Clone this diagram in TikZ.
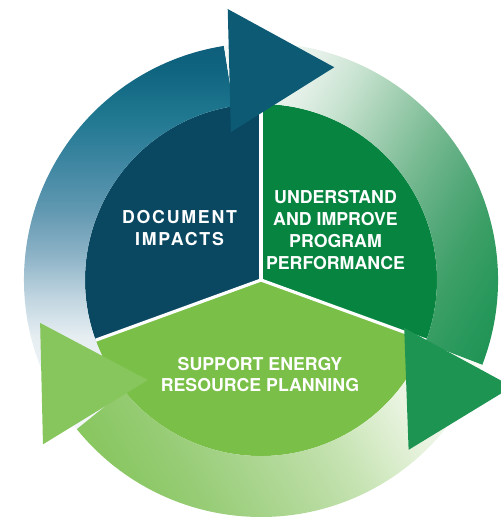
\documentclass[tikz,border=0pt]{standalone}
\usepackage{fontspec}
\setmainfont{TeX Gyre Heros}
\usetikzlibrary{calc}
\definecolor{docblue}{HTML}{0A4862}
\definecolor{perfgreen}{HTML}{078540}
\definecolor{plangreen}{HTML}{7ABF48}
\definecolor{bluedark}{HTML}{0D5A74}
\definecolor{dgreendark}{HTML}{1E9453}
\definecolor{lgreendark}{HTML}{87C65C}
%fade steps, from tail (a) to head (i)
\definecolor{bluea}{HTML}{F2F6F8}
\definecolor{blueb}{HTML}{E6EEF2}
\definecolor{bluec}{HTML}{C0D5E0}
\definecolor{blued}{HTML}{8FB4C8}
\definecolor{bluee}{HTML}{5F97B0}
\definecolor{bluef}{HTML}{3A84A0}
\definecolor{blueg}{HTML}{207890}
\definecolor{blueh}{HTML}{0F6480}
\definecolor{bluei}{HTML}{0D5C78}
\definecolor{dgreena}{HTML}{F4F9F6}
\definecolor{dgreenb}{HTML}{E2EFE6}
\definecolor{dgreenc}{HTML}{C6E2CF}
\definecolor{dgreend}{HTML}{A4D0B3}
\definecolor{dgreene}{HTML}{7ABB94}
\definecolor{dgreenf}{HTML}{55A97A}
\definecolor{dgreeng}{HTML}{3C9F66}
\definecolor{dgreenh}{HTML}{26975A}
\definecolor{dgreeni}{HTML}{1E9453}
\definecolor{lgreena}{HTML}{F7FBF4}
\definecolor{lgreenb}{HTML}{E8F3DF}
\definecolor{lgreenc}{HTML}{D6EBC7}
\definecolor{lgreend}{HTML}{C4E2B0}
\definecolor{lgreene}{HTML}{B3D99A}
\definecolor{lgreenf}{HTML}{A3D286}
\definecolor{lgreeng}{HTML}{97CC75}
\definecolor{lgreenh}{HTML}{8CC866}
\definecolor{lgreeni}{HTML}{87C65C}
\newcommand\declarefade[1]{%
  \pgfdeclareverticalshading{#1fade}{100bp}{
    color(0bp)=(#1a); color(30bp)=(#1a); color(37bp)=(#1b);
    color(42.2bp)=(#1c); color(47.4bp)=(#1d); color(53.9bp)=(#1e);
    color(60.5bp)=(#1f); color(65.7bp)=(#1g); color(72bp)=(#1h);
    color(76bp)=(#1i); color(100bp)=(#1i)}}
\declarefade{blue}
\declarefade{dgreen}
\declarefade{lgreen}
\tikzset{
  divider/.style={white, line width=1.8pt},
  steptext/.style={text=white, align=center,
    font=\bfseries\fontsize{10.1}{12.4}\selectfont},
  doctext/.style={steptext,
    font=\bfseries\fontsize{10.1}{12.4}\selectfont\addfontfeature{LetterSpace=10}}
}
\begin{document}
\begin{tikzpicture}[x=0.02cm,y=0.02cm]
%define stuff
\def\rin{176}
\def\rout{237}
%set bounding box
\useasboundingbox (-261,-245) rectangle (240,280);
\coordinate (c) at (0,0);
%inner disc, three sectors
\fill[docblue] (c) -- (90:\rin) arc (90:200:\rin) -- cycle;
\fill[perfgreen] (c) -- (-20:\rin) arc (-20:90:\rin) -- cycle;
\fill[plangreen] (c) -- (200:\rin) arc (200:340:\rin) -- cycle;
\foreach \a in {90,200,340}
{
	\draw[divider] (c) -- (\a:\rin);
}
%ring bands (drawn for the blue one, turned for the greens)
\foreach \r/\fade in {0/bluefade, -120/dgreenfade, 120/lgreenfade}
{
	\begin{scope}[transform canvas={rotate=\r}]
	\shade[shading=\fade]
	  (99:\rout) arc (99:219:\rout) -- (219:\rin) arc (219:99:\rin) -- cycle;
	\end{scope}
}
%arrow heads
\foreach \r/\chead in {0/bluedark, -120/dgreendark, 120/lgreendark}
{
	\begin{scope}[rotate=\r]
	\coordinate (hin) at (101.5:151);
	\coordinate (htip) at (71:225);
	\coordinate (hout) at (97:273);
	\fill[\chead] (hin) -- (htip) -- (hout) -- cycle;
	\end{scope}
}
%texts
\node[doctext] (doc) at (-81.5,52) {DOCUMENT\\IMPACTS};
\node[steptext] (perf) at (74.5,50) {UNDERSTAND\\AND IMPROVE\\PROGRAM\\PERFORMANCE};
\node[steptext] (plan) at (-1,-94.5) {SUPPORT ENERGY\\RESOURCE PLANNING};
\end{tikzpicture}
\end{document}
